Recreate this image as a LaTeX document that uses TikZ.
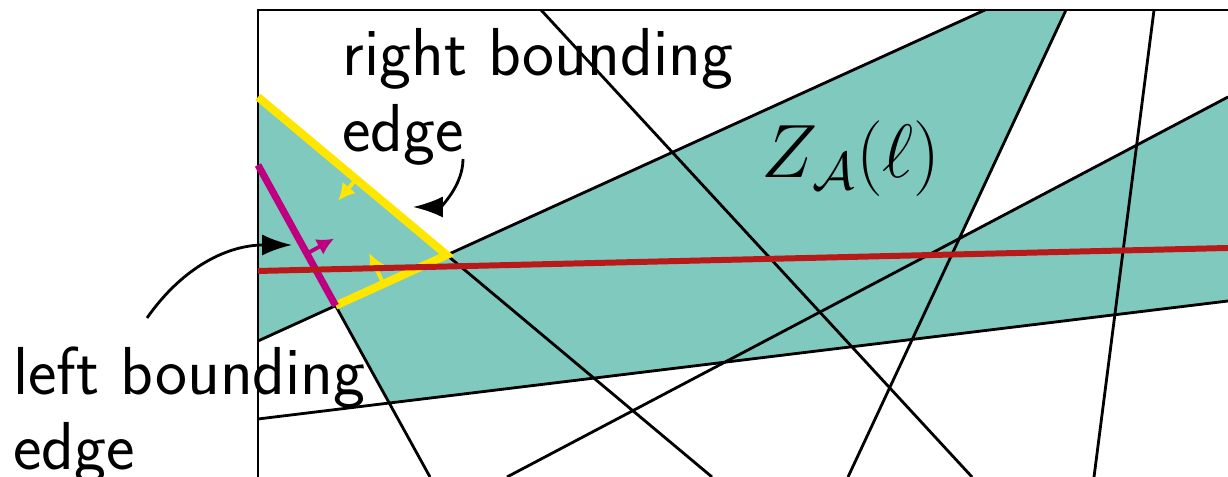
\RequirePackage{fix-cm}
\documentclass[tikz,border=0pt]{standalone}
\usepackage{amsmath,amssymb}
\usepackage{fontspec}
\usepackage{tikz}
\usetikzlibrary{calc,arrows.meta}
\usepackage{xcolor}
\definecolor{zonecol}{RGB}{127,201,190}
\definecolor{rightcol}{RGB}{255,230,0}
\definecolor{leftcol}{RGB}{190,0,128}
\definecolor{linecol}{RGB}{185,25,25}

\begin{document}
\begin{tikzpicture}[x=0.01cm,y=0.01cm,line width=0.8pt,
  arr/.style={-{Latex[length=8.5pt,width=6pt]}},
  normal/.style={line width=1.1pt,-{Latex[length=4.8pt,width=5pt]}},
  lbl/.style={font=\sffamily\fontsize{19.3}{21.6}\selectfont,align=left,inner sep=0pt,anchor=north west}]
\useasboundingbox (0,0) rectangle (1228,477);
% end points of the lines on the frame
\coordinate (a1) at (258,380); \coordinate (a2) at (712,0);
\coordinate (b1) at (541,467); \coordinate (b2) at (972,0);
\coordinate (c1) at (1066,467); \coordinate (c2) at (848,0);
\coordinate (d1) at (1154,467); \coordinate (d2) at (1094,0);
\coordinate (e1) at (1228,380); \coordinate (e2) at (507,0);
\coordinate (f1) at (258,58); \coordinate (f2) at (1228,176);
\coordinate (g1) at (258,136); \coordinate (g2) at (985,467);
\coordinate (h1) at (258,312); \coordinate (h2) at (430,0);
\coordinate (l1) at (258,206); \coordinate (l2) at (1228,229);
% corners of the zone
\coordinate (apex) at (intersection of a1--a2 and g1--g2);
\coordinate (low) at (intersection of h1--h2 and g1--g2);
\coordinate (ce) at (intersection of c1--c2 and e1--e2);
\coordinate (fh) at (intersection of f1--f2 and h1--h2);
\fill[zonecol] (a1) -- (apex) -- (g2) -- (c1) -- (ce) -- (e1) -- (f2) -- (fh) -- (low) -- (g1) -- cycle;
\foreach \p in {a,b,c,d,e,f,g,h}
  \draw (\p1) -- (\p2);
\draw (258,0) -- (258,467) -- (1228,467);
% bounding edges
\draw[rightcol,line width=2.3pt] (a1) -- (apex) -- (low);
\draw[leftcol,line width=2pt] (h1) -- (low);
\coordinate (na) at ($(a1)!0.52!(apex)$);
\coordinate (ng) at ($(low)!0.43!(apex)$);
\coordinate (nh) at ($(low)!0.37!(h1)$);
\draw[normal,rightcol] (na) -- ($(na)!0.28cm!-90:(apex)$);
\draw[normal,rightcol] (ng) -- ($(ng)!0.34cm!90:(apex)$);
\draw[normal,leftcol] (nh) -- ($(nh)!0.31cm!-90:(h1)$);
\draw[linecol,line width=1.7pt] (l1) -- (l2);
% labels
\node[font=\fontsize{21.5}{25}\selectfont,anchor=base west,inner sep=0pt] (zone) at (760,299) {$Z_{\mathcal{A}}(\ell)$};
\node[lbl] (rlab) at (341,450) {right bounding\\edge};
\node[lbl] (llab) at (12,132) {left bounding\\edge};
\coordinate (rtail) at (463,318);
\coordinate (rtip) at (413,270);
\coordinate (ltail) at (147,159);
\coordinate (ltip) at (292,232);
\draw[arr] (rtail) to[out=-90,in=0] (rtip);
\draw[arr] (ltail) to[out=55,in=180] (ltip);
\end{tikzpicture}
\end{document}
